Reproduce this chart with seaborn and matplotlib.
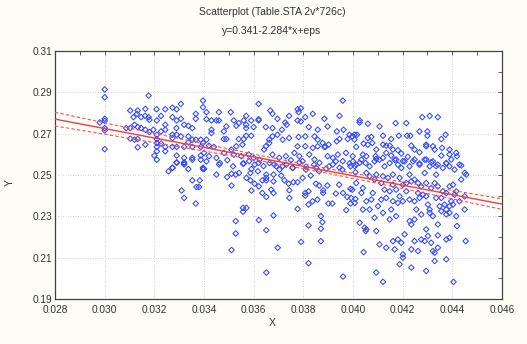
import numpy as np
import pandas as pd
import seaborn as sns
import matplotlib
matplotlib.use("Agg")
from matplotlib import pyplot as plt
from matplotlib.ticker import MultipleLocator, FormatStrFormatter

title_lines = ["Scatterplot (Table.STA 2v*726c)", "y=0.341-2.284*x+eps"]
n_cases = 726
intercept = 0.341
slope = -2.284
x_ticks = [0.028, 0.030, 0.032, 0.034, 0.036, 0.038, 0.040, 0.042, 0.044, 0.046]
y_ticks = [0.19, 0.21, 0.23, 0.25, 0.27, 0.29, 0.31]

# points, grouped by region (x, y)
pts_left = [
    (0.0300, 0.2914), (0.0300, 0.2876), (0.0300, 0.2772), (0.0300, 0.2762), (0.0300, 0.2727),
    (0.0300, 0.2716), (0.0300, 0.2625), (0.0298, 0.2754), (0.03177, 0.2884), (0.03396, 0.2860),
    (0.03307, 0.2844), (0.03273, 0.2826), (0.0329, 0.2818), (0.03244, 0.2818), (0.03209, 0.2818),
    (0.03164, 0.2820), (0.03133, 0.2812), (0.03103, 0.2812), (0.03396, 0.2828), (0.03367, 0.2796),
    (0.03367, 0.2772), (0.03163, 0.2786), (0.03177, 0.2780), (0.0318, 0.2767), (0.03147, 0.2780),
    (0.03116, 0.2780), (0.0313, 0.2796), (0.0321, 0.2764), (0.03227, 0.2786), (0.03244, 0.2743),
    (0.03273, 0.2780), (0.0329, 0.2764), (0.03307, 0.2772), (0.0332, 0.2743), (0.03337, 0.2738),
    (0.03353, 0.2727), (0.03367, 0.2671), (0.03387, 0.2671), (0.03087, 0.2727), (0.03103, 0.2727),
    (0.0312, 0.2743), (0.03133, 0.2732), (0.03147, 0.2727), (0.03164, 0.2719), (0.0318, 0.2708),
    (0.03196, 0.2719), (0.03227, 0.2711), (0.03244, 0.2719), (0.03273, 0.2695), (0.03289, 0.2727),
    (0.0329, 0.2695), (0.03307, 0.2687), (0.03337, 0.2687), (0.03353, 0.2671), (0.03103, 0.2676),
    (0.03133, 0.2674), (0.0312, 0.2671), (0.03164, 0.2647), (0.03133, 0.2634), (0.0321, 0.2695),
    (0.0321, 0.2674), (0.0321, 0.2655), (0.0321, 0.2636), (0.0321, 0.2615), (0.0320, 0.2594),
    (0.03227, 0.2652), (0.03244, 0.2636), (0.03244, 0.2615), (0.03273, 0.2679), (0.0329, 0.2636),
    (0.03273, 0.2636), (0.0332, 0.2636), (0.03353, 0.2636), (0.03337, 0.2658), (0.03387, 0.2636),
    (0.03396, 0.2655), (0.0329, 0.2594), (0.0332, 0.2583), (0.03353, 0.2583), (0.03387, 0.2594),
    (0.0340, 0.2607), (0.0329, 0.2559), (0.0332, 0.2556), (0.03273, 0.2535), (0.03396, 0.2535),
    (0.0321, 0.2574), (0.03257, 0.2518), (0.03273, 0.2534), (0.0329, 0.2561), (0.0332, 0.2561),
    (0.0332, 0.2551), (0.03337, 0.2529), (0.03353, 0.2574), (0.03387, 0.2574), (0.03396, 0.2529),
    (0.03353, 0.2474), (0.03383, 0.2474), (0.0337, 0.2442), (0.0338, 0.2442), (0.0331, 0.2425),
    (0.0332, 0.2389), (0.03367, 0.2362),
]

pts_mid_top = [
    (0.0341, 0.2804), (0.0341, 0.2770), (0.0343, 0.2764), (0.0345, 0.2764), (0.0346, 0.2764),
    (0.0346, 0.2804), (0.03508, 0.2804), (0.0343, 0.2719), (0.0343, 0.2703), (0.0349, 0.2735),
    (0.0348, 0.2711), (0.0348, 0.2674), (0.0349, 0.2674), (0.0341, 0.2671), (0.0342, 0.2642),
    (0.0344, 0.2636), (0.0345, 0.2583), (0.0352, 0.2764), (0.0353, 0.2738), (0.0354, 0.2751),
    (0.0356, 0.2764), (0.0357, 0.2786), (0.0359, 0.2764), (0.0357, 0.2743), (0.0357, 0.2727),
    (0.0362, 0.2844), (0.0362, 0.2770), (0.0362, 0.2764), (0.0360, 0.2732), (0.0359, 0.2690),
    (0.0357, 0.2690), (0.0356, 0.2674), (0.0354, 0.2674), (0.03555, 0.2647), (0.0353, 0.2639),
    (0.0351, 0.2623), (0.0352, 0.2599), (0.0355, 0.2591), (0.0358, 0.2599), (0.0360, 0.2583),
    (0.0356, 0.2556), (0.0362, 0.2559), (0.0364, 0.2543), (0.03667, 0.2812), (0.03676, 0.2796),
    (0.03696, 0.2772), (0.03649, 0.2732), (0.03676, 0.2727), (0.03714, 0.2719), (0.03727, 0.2754),
    (0.03733, 0.2743), (0.03743, 0.2786), (0.03777, 0.2818), (0.0379, 0.2823), (0.03781, 0.2804),
    (0.03777, 0.2764), (0.0379, 0.2759), (0.03808, 0.2780), (0.03838, 0.2796), (0.03885, 0.2772),
    (0.03959, 0.2860), (0.03946, 0.2786), (0.03898, 0.2735), (0.03858, 0.2719), (0.03822, 0.2732),
    (0.03935, 0.2711), (0.03962, 0.2719), (0.03986, 0.2695), (0.04016, 0.2695), (0.04006, 0.2671),
    (0.04013, 0.2636), (0.03979, 0.2674), (0.03946, 0.2674), (0.03935, 0.2663), (0.03902, 0.2647),
    (0.03885, 0.2636), (0.03858, 0.2671), (0.03845, 0.2687), (0.03808, 0.2687), (0.03781, 0.2684),
    (0.03743, 0.2679), (0.03717, 0.2671), (0.03696, 0.2695), (0.03676, 0.2687), (0.03663, 0.2671),
    (0.03663, 0.2655), (0.03649, 0.2639), (0.03642, 0.2623), (0.03777, 0.2639), (0.03808, 0.2639),
    (0.03838, 0.2631), (0.03858, 0.2639), (0.03878, 0.2655), (0.03889, 0.2636), (0.03919, 0.2583),
    (0.03939, 0.2599), (0.03972, 0.2607), (0.03999, 0.2591), (0.03676, 0.2599), (0.03703, 0.2583),
    (0.0373, 0.2591), (0.0375, 0.2572), (0.03764, 0.2607), (0.03784, 0.2591), (0.03797, 0.2567),
    (0.03824, 0.2599), (0.03845, 0.2575), (0.03865, 0.2559), (0.03898, 0.2591), (0.03919, 0.2551),
    (0.03959, 0.2567), (0.03986, 0.2556), (0.03683, 0.2551), (0.03717, 0.2543), (0.03757, 0.2535),
    (0.03811, 0.2540), (0.03851, 0.2535), (0.03892, 0.2530), (0.03946, 0.2535), (0.03582, 0.2567),
    (0.03494, 0.2572), (0.03461, 0.2551), (0.03481, 0.2607), (0.0342, 0.2591),
]

pts_mid_low = [
    (0.0340, 0.2529), (0.0345, 0.2502), (0.03493, 0.2490), (0.03511, 0.2506), (0.03528, 0.2502),
    (0.03541, 0.2510), (0.03511, 0.2449), (0.03557, 0.2555), (0.03604, 0.2550), (0.03591, 0.2529),
    (0.03587, 0.2510), (0.03571, 0.2486), (0.03587, 0.2474), (0.03604, 0.2458), (0.03591, 0.2425),
    (0.03621, 0.2445), (0.03635, 0.2474), (0.03635, 0.2413), (0.03651, 0.2502), (0.03651, 0.2486),
    (0.03651, 0.2474), (0.03651, 0.2394), (0.03671, 0.2429), (0.0368, 0.2502), (0.0368, 0.2469),
    (0.0368, 0.2413), (0.03711, 0.2497), (0.03724, 0.2474), (0.03741, 0.2458), (0.03744, 0.2426),
    (0.03744, 0.2389), (0.0376, 0.2465), (0.03777, 0.2465), (0.03808, 0.2413), (0.03808, 0.2400),
    (0.03821, 0.2421), (0.03821, 0.2357), (0.03837, 0.2373), (0.03857, 0.2381), (0.03851, 0.2458),
    (0.03864, 0.2449), (0.0388, 0.2426), (0.0388, 0.2413), (0.03897, 0.2449), (0.03901, 0.2362),
    (0.03917, 0.2362), (0.03931, 0.2410), (0.0396, 0.2413), (0.03977, 0.2394), (0.0399, 0.2362),
    (0.0401, 0.2384), (0.03973, 0.2330), (0.03944, 0.2453), (0.0399, 0.2433), (0.03557, 0.2341),
    (0.03571, 0.2341), (0.03557, 0.2322), (0.03528, 0.2277), (0.03528, 0.2217), (0.03511, 0.2137),
    (0.03621, 0.2282), (0.03651, 0.2233), (0.0368, 0.2304), (0.03697, 0.2148), (0.03777, 0.2336),
    (0.03791, 0.2176), (0.03821, 0.2256), (0.03821, 0.2073), (0.03651, 0.2028), (0.03871, 0.2301),
    (0.03877, 0.2272), (0.03871, 0.2240), (0.03871, 0.2180), (0.0396, 0.2009), (0.0341, 0.2566),
    (0.03464, 0.2558), (0.03517, 0.2542), (0.03624, 0.2574), (0.03664, 0.2558), (0.03691, 0.2542),
    (0.03731, 0.2550), (0.03757, 0.2534), (0.03784, 0.2561), (0.03811, 0.2526), (0.03844, 0.2550),
    (0.03864, 0.2518), (0.03904, 0.2542), (0.03931, 0.2566), (0.03957, 0.2526), (0.0399, 0.2542),
    (0.0401, 0.2513), (0.0383, 0.2497), (0.03797, 0.2486), (0.03704, 0.2526), (0.03617, 0.2518),
]

pts_right_top = [
    (0.04027, 0.2764), (0.04027, 0.2754), (0.0406, 0.2748), (0.04107, 0.2735), (0.04172, 0.2751),
    (0.04215, 0.2751), (0.04279, 0.2780), (0.04309, 0.2786), (0.04342, 0.2780), (0.03997, 0.2687),
    (0.04007, 0.2695), (0.0406, 0.2679), (0.04074, 0.2684), (0.04121, 0.2690), (0.04154, 0.2674),
    (0.04185, 0.2690), (0.04218, 0.2690), (0.04231, 0.2690), (0.04268, 0.2711), (0.0430, 0.2711),
    (0.0430, 0.2690), (0.04373, 0.2695), (0.04356, 0.2674), (0.04043, 0.2652), (0.0406, 0.2647),
    (0.04078, 0.2655), (0.04094, 0.2623), (0.04121, 0.2647), (0.04134, 0.2642), (0.04148, 0.2642),
    (0.04161, 0.2623), (0.04181, 0.2620), (0.04195, 0.2604), (0.04235, 0.2642), (0.04248, 0.2623),
    (0.04268, 0.2610), (0.04295, 0.2647), (0.04295, 0.2639), (0.04322, 0.2639), (0.04329, 0.2623),
    (0.04359, 0.2631), (0.04389, 0.2623), (0.04356, 0.2594), (0.04389, 0.2599), (0.04416, 0.2607),
    (0.04419, 0.2591), (0.04436, 0.2546), (0.0404, 0.2599), (0.04054, 0.2591), (0.04091, 0.2591),
    (0.04094, 0.2578), (0.04121, 0.2583), (0.04134, 0.2607), (0.04154, 0.2594), (0.04174, 0.2575),
    (0.04201, 0.2567), (0.04221, 0.2588), (0.04248, 0.2575), (0.04268, 0.2556), (0.04295, 0.2575),
    (0.04315, 0.2562), (0.04335, 0.2543), (0.04376, 0.2556), (0.04396, 0.2575), (0.04027, 0.2559),
    (0.04007, 0.2543),
]

pts_right_low = [
    (0.0400, 0.2566), (0.04013, 0.2550), (0.04034, 0.2574), (0.04051, 0.2558), (0.04067, 0.2542),
    (0.04087, 0.2566), (0.04107, 0.2574), (0.04127, 0.2542), (0.04148, 0.2558), (0.04168, 0.2574),
    (0.04181, 0.2550), (0.04195, 0.2534), (0.04208, 0.2566), (0.04228, 0.2542), (0.04242, 0.2566),
    (0.04268, 0.2550), (0.04289, 0.2574), (0.04309, 0.2542), (0.04322, 0.2566), (0.04342, 0.2550),
    (0.04362, 0.2534), (0.04376, 0.2558), (0.04389, 0.2542), (0.04409, 0.2526), (0.04429, 0.2550),
    (0.0445, 0.2510), (0.04456, 0.2502), (0.04054, 0.2510), (0.04067, 0.2494), (0.04087, 0.2478),
    (0.04094, 0.2502), (0.04121, 0.2494), (0.04141, 0.2486), (0.04161, 0.2502), (0.04188, 0.2486),
    (0.04201, 0.2453), (0.04215, 0.2461), (0.04235, 0.2469), (0.04248, 0.2478), (0.04262, 0.2461),
    (0.04275, 0.2445), (0.04295, 0.2461), (0.04315, 0.2437), (0.04329, 0.2461), (0.04342, 0.2445),
    (0.04362, 0.2421), (0.04376, 0.2413), (0.04389, 0.2445), (0.04409, 0.2405), (0.04416, 0.2421),
    (0.04161, 0.2453), (0.04148, 0.2421), (0.04127, 0.2429), (0.04134, 0.2389), (0.04114, 0.2381),
    (0.04154, 0.2333), (0.04161, 0.2373), (0.04181, 0.2365), (0.04188, 0.2397), (0.04201, 0.2373),
    (0.04215, 0.2421), (0.04228, 0.2381), (0.04248, 0.2373), (0.04262, 0.2413), (0.04268, 0.2389),
    (0.04282, 0.2405), (0.04302, 0.2357), (0.04309, 0.2333), (0.04309, 0.2317), (0.04335, 0.2389),
    (0.04356, 0.2389), (0.04369, 0.2357), (0.04376, 0.2333), (0.04376, 0.2309), (0.04389, 0.2317),
    (0.04389, 0.2349), (0.04396, 0.2373), (0.04403, 0.2357), (0.04416, 0.2301), (0.04419, 0.2253),
    (0.0445, 0.2333), (0.03997, 0.2429), (0.03993, 0.2389), (0.0404, 0.2333), (0.04067, 0.2333),
    (0.04074, 0.2381), (0.04027, 0.2269), (0.04047, 0.2245), (0.04054, 0.2237), (0.04051, 0.2229),
    (0.04087, 0.2293), (0.04094, 0.2229), (0.04107, 0.2164), (0.04134, 0.2148), (0.04161, 0.2180),
    (0.04181, 0.2188), (0.04195, 0.2172), (0.04201, 0.2116), (0.04201, 0.2100), (0.04188, 0.2068),
    (0.04168, 0.2140), (0.04208, 0.2213), (0.04228, 0.2277), (0.04235, 0.2261), (0.04235, 0.2140),
    (0.04248, 0.2180), (0.04262, 0.2132), (0.04275, 0.2188), (0.04289, 0.2180), (0.04295, 0.2237),
    (0.04302, 0.2205), (0.04315, 0.2172), (0.04322, 0.2132), (0.04329, 0.2124), (0.04329, 0.2084),
    (0.04342, 0.2261), (0.04342, 0.2208), (0.04342, 0.2148), (0.04376, 0.2188), (0.04389, 0.2196),
    (0.04376, 0.2092), (0.04295, 0.2036), (0.04235, 0.2052), (0.04094, 0.2028), (0.04121, 0.1983),
    (0.04043, 0.2127), (0.04405, 0.1983), (0.04454, 0.2180), (0.04013, 0.2461), (0.04034, 0.2413),
    (0.04007, 0.2365), (0.04054, 0.2373), (0.04101, 0.2349), (0.04121, 0.2317), (0.0408, 0.2413),
    (0.04174, 0.2301), (0.04148, 0.2285), (0.04255, 0.2333), (0.04275, 0.2309), (0.04322, 0.2301),
    (0.04356, 0.2325), (0.04248, 0.2285), (0.04429, 0.2373), (0.0445, 0.2397), (0.04436, 0.2478),
    (0.04403, 0.2453), (0.04335, 0.2502), (0.04289, 0.2510), (0.04228, 0.2502), (0.04114, 0.2461),
    (0.0404, 0.2437), (0.04174, 0.2429), (0.04349, 0.2349), (0.04295, 0.2397),
]


def make_plot():
    data = pd.DataFrame(pts_left + pts_mid_top + pts_mid_low + pts_right_top + pts_right_low,
                        columns=['X', 'Y'])

    sns.set_style('white')
    plt.rcParams['font.family'] = ['Liberation Sans', 'DejaVu Sans']
    text_col = '#333333'

    fig = plt.figure(figsize=(5.27, 3.44), dpi=100, facecolor='#fdfdf6')
    ax = fig.add_axes([0.1044, 0.1308, 0.848, 0.7209])
    ax.set_facecolor('white')

    sns.scatterplot(data=data, x='X', y='Y', marker='D', s=8, fc='none', ec='#3048ff',
                    linewidth=0.75, ax=ax, zorder=3)

    # fitted line with 95% confidence band (scaled to the 726 cases in the title)
    xs = np.linspace(0.028, 0.046, 100)
    ys = intercept + slope * xs
    x = data['X'].to_numpy()
    resid = data['Y'].to_numpy() - (intercept + slope * x)
    s = np.sqrt(np.mean(resid ** 2))
    sxx = np.var(x) * n_cases
    half = 1.96 * s * np.sqrt(1 / n_cases + (xs - x.mean()) ** 2 / sxx)
    ax.plot(xs, ys, color='#ff3a2e', lw=1.0, zorder=4)
    ax.plot(xs, ys + half, color='#ff5040', lw=0.8, ls=(0, (3, 2)), zorder=4)
    ax.plot(xs, ys - half, color='#ff5040', lw=0.8, ls=(0, (3, 2)), zorder=4)

    ax.set_xlim(0.028, 0.046)
    ax.set_ylim(0.19, 0.31)
    ax.set_xticks(x_ticks)
    ax.set_yticks(y_ticks)
    ax.xaxis.set_major_formatter(FormatStrFormatter('%.3f'))
    ax.yaxis.set_major_formatter(FormatStrFormatter('%.2f'))
    ax.xaxis.set_minor_locator(MultipleLocator(0.001))
    ax.yaxis.set_minor_locator(MultipleLocator(0.01))
    ax.tick_params(which='both', direction='in', top=True, right=True, length=3,
                   width=0.6, color='#444444', labelsize=7.3, labelcolor=text_col, pad=2)
    ax.tick_params(axis='x', pad=4)
    ax.grid(True, which='major', ls=(0, (1, 2)), lw=0.6, color='#c4c4c4')
    for sp in ax.spines.values():
        sp.set_color('#404040')
        sp.set_linewidth(0.9)

    ax.set_xlabel('')
    ax.set_ylabel('')
    fig.text(272 / 527, 1 - 323 / 344, 'X', ha='center', va='center', fontsize=7.5, color=text_col)
    fig.text(10 / 527, 1 - 182 / 344, 'Y', ha='center', va='center', fontsize=7.5,
             color=text_col, rotation=90)
    fig.text(272 / 527, 1 - 12 / 344, title_lines[0], ha='center', va='center',
             fontsize=7.5, color=text_col)
    fig.text(272 / 527, 1 - 31 / 344, title_lines[1], ha='center', va='center',
             fontsize=7.5, color=text_col)


def save_plot_as(filename):
    make_plot()
    plt.savefig(filename, dpi=100, facecolor='#fdfdf6')
    plt.close()


if __name__ == '__main__':
    save_plot_as('out.png')
